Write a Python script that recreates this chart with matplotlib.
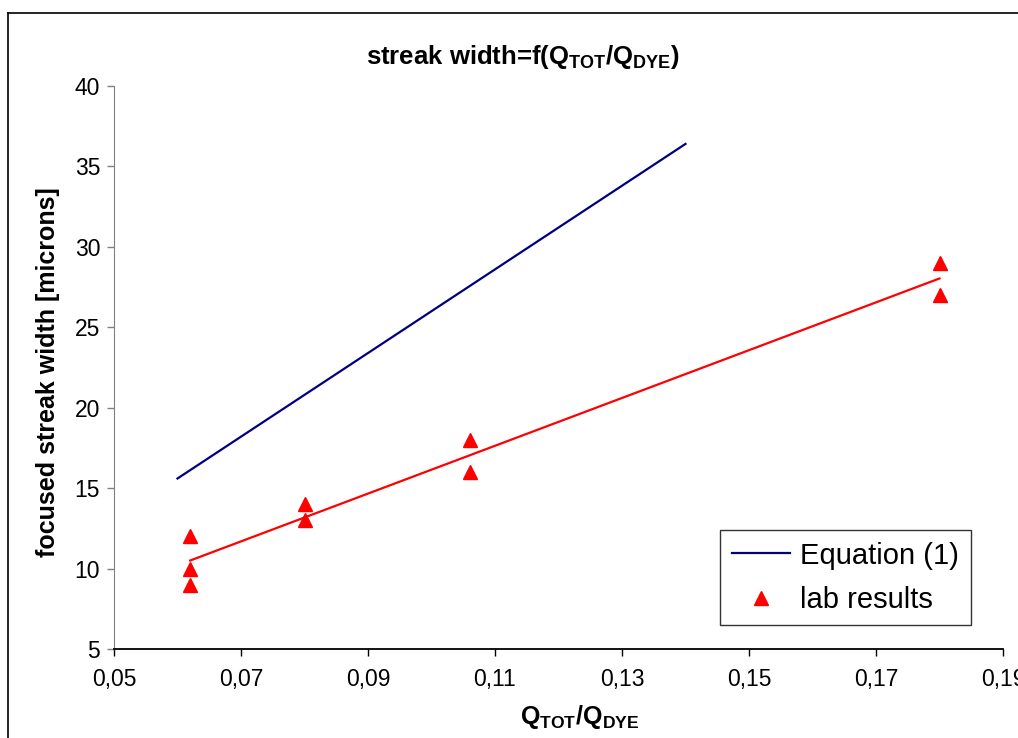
import numpy as np
import matplotlib
matplotlib.use("Agg")
import matplotlib.pyplot as plt
from matplotlib.ticker import FuncFormatter

plt.rcParams['font.family'] = ['Liberation Sans', 'DejaVu Sans']
plt.rcParams['mathtext.fontset'] = 'custom'
plt.rcParams['mathtext.bf'] = 'Liberation Sans:bold'
plt.rcParams['mathtext.rm'] = 'Liberation Sans:bold'
plt.rcParams['mathtext.default'] = 'bf'

# Equation (1) line
eq_x = [0.06, 0.14]
eq_y = [15.6, 36.4]

# lab results (triangles)
lab_x = [0.062, 0.062, 0.062, 0.08, 0.08, 0.106, 0.106, 0.18, 0.18]
lab_y = [12, 10, 9, 14, 13, 18, 16, 29, 27]

x_ticks = [0.05, 0.07, 0.09, 0.11, 0.13, 0.15, 0.17, 0.19]
y_ticks = [5, 10, 15, 20, 25, 30, 35, 40]

# linear trendline through the lab results (like excel)
slope, intercept = np.polyfit(lab_x, lab_y, 1)
trend_x = np.array([min(lab_x), max(lab_x)])
trend_y = slope * trend_x + intercept

fig = plt.figure(figsize=(10.18, 7.38), dpi=100)
ax = fig.add_axes([114 / 1018, 1 - 649 / 738, 889 / 1018, 563 / 738])

ax.plot(eq_x, eq_y, color='#000080', lw=1.6, label='Equation (1)')
ax.plot(lab_x, lab_y, linestyle='none', marker='^', color='#FF0000',
        markersize=10, label='lab results')
ax.plot(trend_x, trend_y, color='#FF0000', lw=1.6)

ax.set_xlim(0.05, 0.19)
ax.set_ylim(5, 40)
ax.set_xticks(x_ticks)
ax.set_yticks(y_ticks)
ax.xaxis.set_major_formatter(FuncFormatter(lambda v, p: ('%.2f' % v).replace('.', ',')))
ax.tick_params(axis='both', direction='out', length=5, labelsize=16.5, width=1)
ax.tick_params(axis='x', pad=9)
ax.tick_params(axis='y', colors='#808080', labelcolor='black', pad=5)

ax.spines['top'].set_visible(False)
ax.spines['right'].set_visible(False)
ax.spines['left'].set_color('#808080')
ax.spines['bottom'].set_color('black')
ax.spines['bottom'].set_linewidth(1.3)

# the x tick label 0,19 runs off the right edge like in the picture
for lbl in ax.get_xticklabels():
    lbl.set_clip_on(False)

fig.text(523 / 1018, 1 - 57 / 738, 'streak width=f(Q$_{TOT}$/Q$_{DYE}$)',
         ha='center', va='center', fontsize=18.5, fontweight='bold')
fig.text(580 / 1018, 1 - 717 / 738, 'Q$_{TOT}$/Q$_{DYE}$',
         ha='center', va='center', fontsize=18, fontweight='bold')
fig.text(48 / 1018, 1 - 372 / 738, 'focused streak width [microns]',
         ha='center', va='center', rotation=90, fontsize=18, fontweight='bold')

leg = ax.legend(loc='upper left', bbox_to_anchor=(720 / 1018, 1 - 530 / 738),
                bbox_transform=fig.transFigure, borderaxespad=0, fontsize=21,
                frameon=True, fancybox=False, handlelength=2.0,
                borderpad=0.4, labelspacing=0.55, handletextpad=0.35)
leg.get_frame().set_edgecolor('black')
leg.get_frame().set_linewidth(1)

# chart border (only left and top show in the cropped picture)
fig.add_artist(plt.Line2D([8 / 1018, 8 / 1018], [0, 1 - 13 / 738],
                          transform=fig.transFigure, color='black', lw=1.2))
fig.add_artist(plt.Line2D([8 / 1018, 1], [1 - 13 / 738, 1 - 13 / 738],
                          transform=fig.transFigure, color='black', lw=1.2))

fig.savefig('out.png', dpi=100)
